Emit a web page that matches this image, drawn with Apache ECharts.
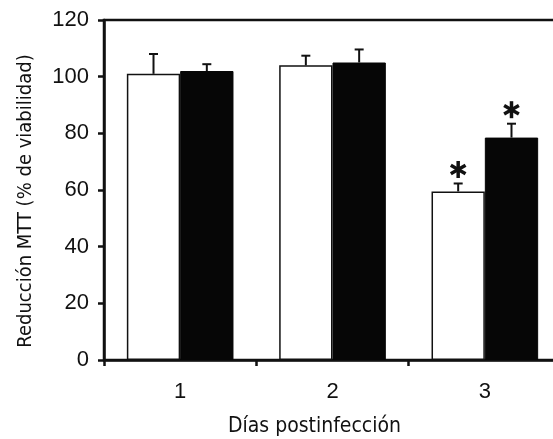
<!DOCTYPE html>
<html>
<head>
<meta charset="utf-8">
<script src="https://cdn.jsdelivr.net/npm/echarts@6/dist/echarts.min.js"></script>
<style>
html,body{margin:0;padding:0;background:#fff;}
#chart{width:553px;height:439px;}
</style>
</head>
<body>
<div id="chart"></div>
<script>
var categories = ['1', '2', '3'];
var controlValues = [101, 104, 59.5];
var controlErrors = [7, 3.4, 2.8];
var infectedValues = [102, 105, 78.5];
var infectedErrors = [2.4, 4.6, 4.9];
var controlSignificant = [0, 0, 1];
var infectedSignificant = [0, 0, 1];
var yTicks = [0, 20, 40, 60, 80, 100, 120];

var chart = echarts.init(document.getElementById('chart'), null, {renderer: 'canvas'});

function errData(vals, errs, sig) {
  return vals.map(function (v, i) { return [i, v, errs[i], sig[i]]; });
}

function makeRender(side) {
  return function (params, api) {
    var idx = api.value(0);
    var val = api.value(1);
    var err = api.value(2);
    var sig = api.value(3);
    var band = api.size([1, 0])[0];
    var offset = side * band * 0.175;
    var base = api.coord([idx, val]);
    var top = api.coord([idx, val + err]);
    var x = base[0] + offset;
    var style = {stroke: '#111', lineWidth: 2};
    var children = [
      {type: 'line', shape: {x1: x, y1: base[1], x2: x, y2: top[1]}, style: style},
      {type: 'line', shape: {x1: x - 4.5, y1: top[1], x2: x + 4.5, y2: top[1]}, style: style}
    ];
    if (sig) {
      var cy = top[1] - 14;
      var r = 8.5;
      var st = {stroke: '#111', lineWidth: 3.5};
      children.push({type: 'line', shape: {x1: x, y1: cy - r, x2: x, y2: cy + r}, style: st});
      var dx = r * Math.cos(Math.PI / 6), dy = r * Math.sin(Math.PI / 6);
      children.push({type: 'line', shape: {x1: x - dx, y1: cy - dy, x2: x + dx, y2: cy + dy}, style: st});
      children.push({type: 'line', shape: {x1: x - dx, y1: cy + dy, x2: x + dx, y2: cy - dy}, style: st});
    }
    return {type: 'group', children: children};
  };
}

var titleFont = "'Liberation Sans Narrow', 'DejaVu Sans Condensed', 'Roboto', sans-serif";
var tickFont = "'Liberation Sans', Arial, sans-serif";

var option = {
  animation: false,
  backgroundColor: '#fff',
  grid: {left: 104, right: -8, top: 20, bottom: 79, outerBoundsMode: 'none', containLabel: false, show: true, borderColor: '#111', borderWidth: 2.5, backgroundColor: 'transparent'},
  xAxis: {
    type: 'category',
    data: categories,
    name: 'Días postinfección',
    nameLocation: 'middle',
    nameGap: 56,
    nameTextStyle: {fontFamily: titleFont, fontSize: 21, color: '#111', padding: [0, 36, 0, 0]},
    axisLine: {lineStyle: {color: '#111', width: 2.5}},
    axisTick: {show: true, length: 6, lineStyle: {color: '#111', width: 2.5}},
    axisLabel: {fontFamily: tickFont, fontSize: 22, color: '#111', margin: 21}
  },
  yAxis: {
    type: 'value',
    min: yTicks[0],
    max: yTicks[yTicks.length - 1],
    interval: 20,
    name: 'Reducción MTT (% de viabilidad)',
    nameLocation: 'middle',
    nameGap: 68,
    nameTextStyle: {fontFamily: titleFont, fontSize: 20, color: '#111', padding: [0, 22, 0, 0]},
    axisLine: {show: true, lineStyle: {color: '#111', width: 2.5}},
    axisTick: {show: true, length: 6, lineStyle: {color: '#111', width: 2.5}},
    splitLine: {show: false},
    axisLabel: {fontFamily: tickFont, fontSize: 22, color: '#111', margin: 15}
  },
  series: [
    {
      type: 'bar',
      name: 'Control',
      data: controlValues,
      barGap: '0%',
      barCategoryGap: '30%',
      itemStyle: {color: '#fff', borderColor: '#111', borderWidth: 1.5}
    },
    {
      type: 'bar',
      name: 'Infectado',
      data: infectedValues,
      barGap: '0%',
      barCategoryGap: '30%',
      itemStyle: {color: '#060606', borderColor: '#060606', borderWidth: 1}
    },
    {
      type: 'custom',
      renderItem: makeRender(-1),
      data: errData(controlValues, controlErrors, controlSignificant),
      z: 5
    },
    {
      type: 'custom',
      renderItem: makeRender(1),
      data: errData(infectedValues, infectedErrors, infectedSignificant),
      z: 5
    }
  ]
};
chart.setOption(option);
</script>
</body>
</html>
